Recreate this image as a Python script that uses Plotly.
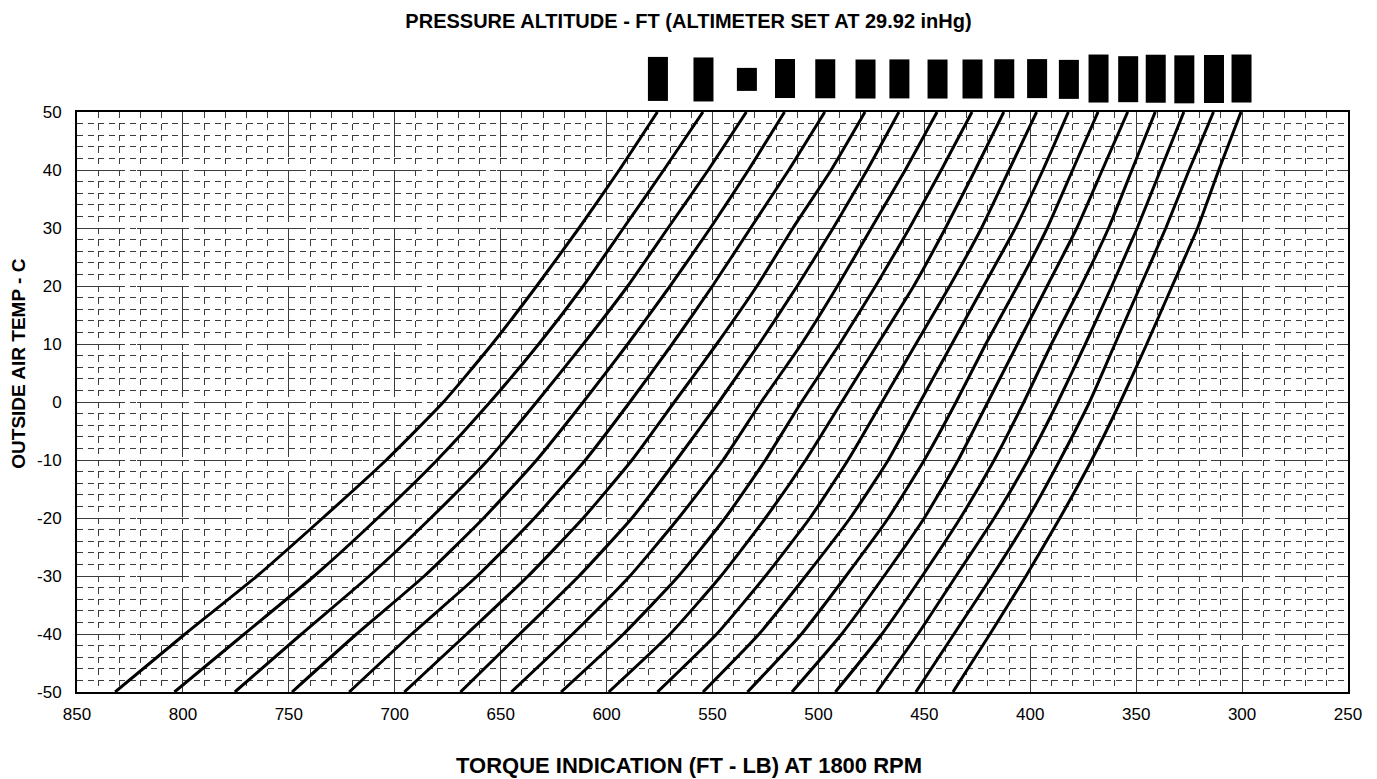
import plotly.graph_objects as go

# ---------------- data ----------------
oat_c = [-50, -40, -30, -20, -10, 0, 10, 20, 30, 40, 50]

alt_labels = ["-2000", "-1000", "SL", "1000", "2000", "3000", "4000", "5000", "6000",
              "7000", "8000", "9000", "10000", "11000", "12000", "13000", "14000", "15000"]

tq_m2000 = [832, 799, 765, 734, 704, 677, 654, 633, 613, 594, 576]
tq_m1000 = [804, 771, 738, 708, 680, 655, 632, 611, 592, 573, 554.5]
tq_sl = [775.5, 744, 712, 683, 656, 633, 611, 590, 571, 552, 534]
tq_1000 = [748.5, 718, 686, 658, 633, 611, 590, 570, 551, 533, 516]
tq_2000 = [721.5, 692, 661, 634, 610, 589, 569, 550, 532, 514, 497]
tq_3000 = [695.5, 666, 637, 611, 588, 568, 548, 529, 512, 494, 478]
tq_4000 = [669, 641, 613, 588, 567, 547, 528, 510, 493, 477, 462]
tq_5000 = [645, 616, 589, 566, 545, 527, 508, 491, 475, 459, 444]
tq_6000 = [621.5, 592, 566, 544, 525, 508, 490, 473, 457, 442, 427.5]
tq_7000 = [599, 570, 546, 525, 506, 489, 472, 455, 440, 426, 412.5]
tq_8000 = [576, 548, 525, 504, 486, 470, 454, 438, 423, 410, 397]
tq_9000 = [554.5, 528, 506, 485, 467, 452, 437, 422, 407, 394, 382]
tq_10000 = [533.5, 508, 487, 467, 450, 435, 421, 406, 392, 380, 368]
tq_11000 = [512.5, 489, 469, 450, 434, 420, 406, 392, 378, 366, 354]
tq_12000 = [492, 470, 451, 433, 417, 403, 390, 376, 363, 352, 341]
tq_13000 = [472.5, 453, 435, 417, 401, 387, 374, 361.5, 349.5, 338.5, 327.5]
tq_14000 = [454, 436, 418, 401, 386, 372, 360, 348, 336, 325, 313.5]
tq_15000 = [436.5, 419, 402, 386, 371, 357.5, 345, 333, 321, 311, 300.5]

curves = [tq_m2000, tq_m1000, tq_sl, tq_1000, tq_2000, tq_3000, tq_4000, tq_5000,
          tq_6000, tq_7000, tq_8000, tq_9000, tq_10000, tq_11000, tq_12000,
          tq_13000, tq_14000, tq_15000]

x_ticks = [850, 800, 750, 700, 650, 600, 550, 500, 450, 400, 350, 300, 250]
y_ticks = [-50, -40, -30, -20, -10, 0, 10, 20, 30, 40, 50]

title_text = "PRESSURE ALTITUDE - FT (ALTIMETER SET AT 29.92 inHg)"
x_title = "TORQUE INDICATION (FT - LB) AT 1800 RPM"
y_title = "OUTSIDE AIR TEMP - C"

# ---------------- figure ----------------
FONT = "Liberation Sans, Arial, sans-serif"
PAGE_PAD = 8                      # default body margin of the html page
W, H = 1377 - PAGE_PAD, 779 - PAGE_PAD
ML, MT = 77 - PAGE_PAD, 112 - PAGE_PAD
MR = W - (1348 - PAGE_PAD)
MB = H - (692 - PAGE_PAD)

fig = go.Figure()
for lab, tq in zip(alt_labels, curves):
    fig.add_trace(go.Scatter(
        x=tq, y=oat_c, mode="lines", name=lab,
        line=dict(color="black", width=3, shape="spline", smoothing=0.5),
        hoverinfo="x+y+name", showlegend=False))

# altitude labels (redacted in the reference -> black boxes) above each curve top
for lab, tq in zip(alt_labels, curves):
    fig.add_annotation(
        x=tq[-1], xref="x", y=1, yref="paper", yshift=33,
        text=lab, textangle=-90, showarrow=False,
        font=dict(family=FONT, size=16, color="black"),
        bgcolor="black", borderpad=1, xanchor="center", yanchor="middle")

grid_col = "#3c3c3c"
fig.update_xaxes(
    range=[x_ticks[0], x_ticks[-1]], tickvals=x_ticks,
    ticktext=[str(v) for v in x_ticks],
    showline=True, mirror=True, linecolor="black", linewidth=2,
    showgrid=True, gridcolor=grid_col, gridwidth=1, griddash="45px,15px",
    minor=dict(dtick=10, showgrid=True, gridcolor=grid_col, gridwidth=1,
               griddash="6px,5.6px", ticks=""),
    ticks="", tickfont=dict(family=FONT, size=17, color="black"),
    ticklabelstandoff=6, zeroline=False)
fig.update_yaxes(
    range=[y_ticks[0], y_ticks[-1]], tickvals=y_ticks,
    ticktext=[str(v) for v in y_ticks],
    showline=True, mirror=True, linecolor="black", linewidth=2,
    showgrid=True, gridcolor=grid_col, gridwidth=1, griddash="45px,15px",
    minor=dict(dtick=2, showgrid=True, gridcolor=grid_col, gridwidth=1,
               griddash="6px,4.6px", ticks=""),
    ticks="", tickfont=dict(family=FONT, size=17, color="black"),
    ticklabelstandoff=10, zeroline=False)

fig.add_annotation(
    x=(1377 / 2 - 77) / (1348 - 77), xref="paper", y=0, yref="paper", yshift=-73,
    text="<b>" + x_title + "</b>", showarrow=False,
    font=dict(family=FONT, size=22, color="black"), xanchor="center", yanchor="middle")
fig.add_annotation(
    x=0, xref="paper", xshift=-58, y=0.566, yref="paper",
    text="<b>" + y_title + "</b>", textangle=-90, showarrow=False,
    font=dict(family=FONT, size=19, color="black"), xanchor="center", yanchor="middle")

fig.update_layout(
    width=W, height=H,
    margin=dict(l=ML, r=MR, t=MT, b=MB),
    paper_bgcolor="white", plot_bgcolor="white",
    title=dict(text="<b>" + title_text + "</b>", x=(1377 / 2 - PAGE_PAD) / W, xref="container",
               y=1 - (21 - PAGE_PAD) / H, yref="container", xanchor="center", yanchor="middle",
               font=dict(family=FONT, size=20, color="black")),
    showlegend=False)

fig.write_html("out.html")
